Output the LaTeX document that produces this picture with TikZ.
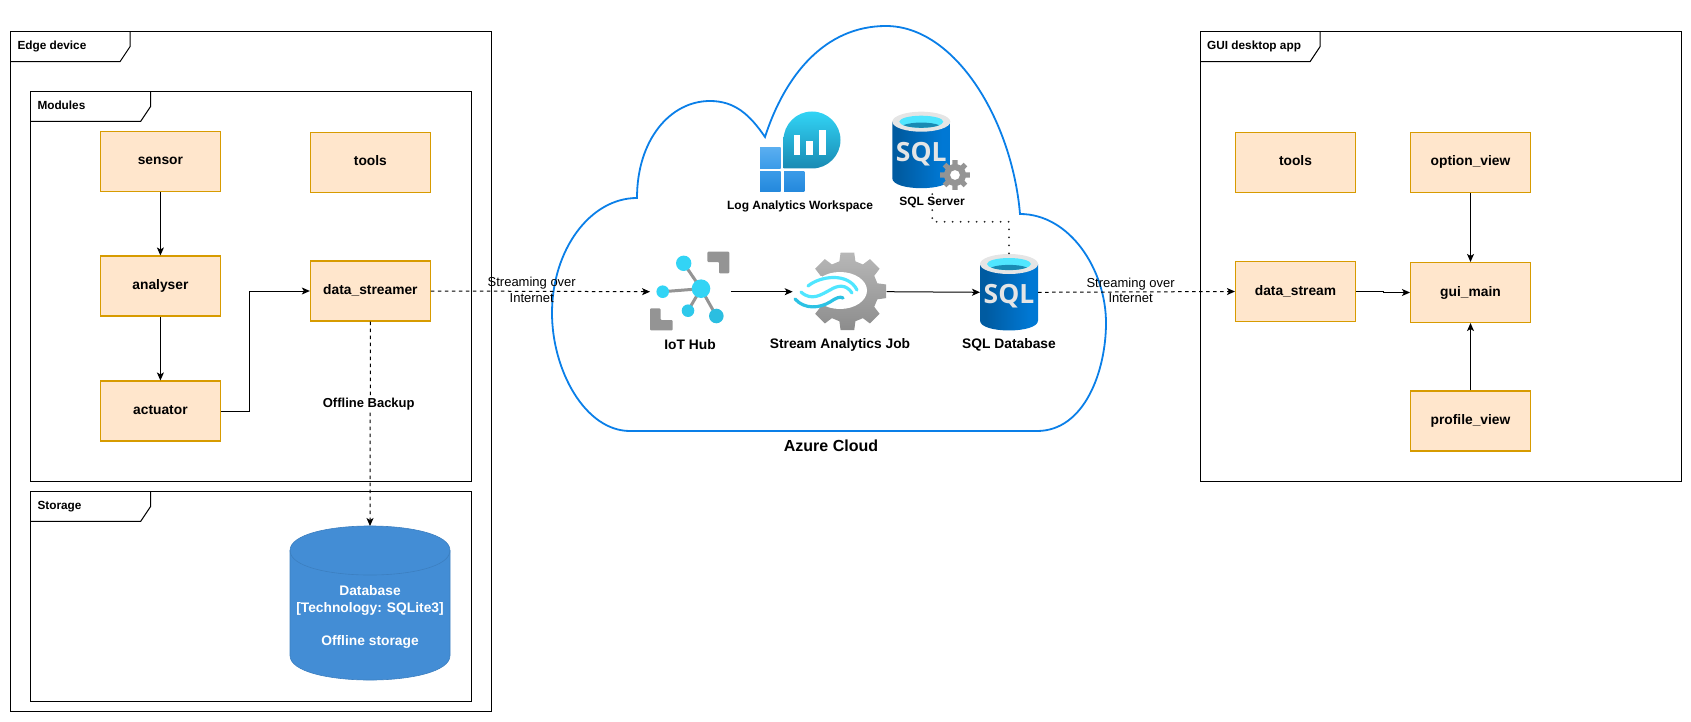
\documentclass[tikz,border=0pt]{standalone}
\usepackage{fontspec}
\setmainfont{Liberation Sans}
\newfontfamily\iconfont{Open Sans}
\usetikzlibrary{arrows.meta}

\definecolor{boxfill}{HTML}{FFE6CC}
\definecolor{boxline}{HTML}{D79B00}
\definecolor{cloudline}{HTML}{0A7FE8}
\definecolor{dbfill}{HTML}{438DD5}
\definecolor{dbline}{HTML}{3C7FC0}
\definecolor{iconcyan}{HTML}{32D4F5}
\definecolor{icondeep}{HTML}{198AB3}
\definecolor{iconpale}{HTML}{50E6FF}
\definecolor{icongrey}{HTML}{949494}
\definecolor{sqldark}{HTML}{005BA1}
\definecolor{sqlbright}{HTML}{0078D4}
\definecolor{logsky}{HTML}{5AAEF0}
\definecolor{logmid}{HTML}{3A9BE8}
\definecolor{loglow}{HTML}{2488DC}

\pgfdeclarehorizontalshading{sqlbody}{100bp}{color(0bp)=(sqldark); color(30bp)=(sqldark); color(68bp)=(sqlbright); color(74bp)=(sqlbright); color(100bp)=(sqldark)}

\tikzset{
  modulebox/.style={draw=boxline, fill=boxfill, line width=1.1pt, minimum width=120, minimum height=60, font=\fontsize{13.8}{16}\selectfont\bfseries, inner sep=0pt, text height=10pt, text depth=3pt},
  frameline/.style={draw=black, line width=1pt},
  frametitle/.style={anchor=west, inner sep=0pt, font=\fontsize{11.8}{14}\selectfont\bfseries, text height=9pt, text depth=2.5pt},
  flowarrow/.style={draw=black, line width=1pt, -{Stealth[length=8pt,width=7pt,inset=2pt]}},
  dasharrow/.style={flowarrow, dash pattern=on 3.5pt off 3.5pt},
  dotline/.style={draw=black!85, line width=2pt, line cap=round, dash pattern=on 0pt off 8pt},
  iconspot/.style={inner sep=0pt, outer sep=0pt},
  iconlabel/.style={inner sep=0pt, font=\fontsize{13.8}{16}\selectfont\bfseries},
  smalllabel/.style={inner sep=0pt, font=\fontsize{12}{14}\selectfont\bfseries},
  overlabel/.style={inner sep=0pt, align=center, font=\fontsize{13}{15.3}\selectfont},
  sqlicon/.pic={
    \path[shading=sqlbody] (-29,0) -- (-29,56.5) .. controls (-29,69.8) and (29,69.8) .. (29,56.5) -- (29,0) -- cycle;
    \fill[black!10] (0,0) ellipse (29 and 10);
    \fill[iconpale] (0,0) ellipse (22 and 6);
    \fill[icondeep] (-18,3.5) .. controls (-10,0) and (10,0) .. (18,3.5) .. controls (10,7) and (-10,7) .. (-18,3.5);
    \node[text=black!10, inner sep=0pt, font=\iconfont\fontsize{26.5}{27}\selectfont\bfseries] at (0,32) {SQL};
  }
}

\begin{document}
\begin{tikzpicture}[x=1pt, y=-1pt]
  \useasboundingbox (0,0) rectangle (1691,722);

  % cloud
  \draw[cloudline, line width=1.8pt] (637,198) .. controls (590,198) and (552,250) .. (552,313)
    .. controls (552,370) and (585,431) .. (630,431) -- (1037,431)
    .. controls (1085,431) and (1106,370) .. (1106,323)
    .. controls (1106,270) and (1070,214) .. (1020,214)
    .. controls (1012,120) and (955,26) .. (886,26)
    .. controls (825,26) and (785,75) .. (765,137)
    .. controls (750,115) and (735,101) .. (710,101)
    .. controls (670,101) and (637,140) .. (637,198) -- cycle;
  \node[inner sep=0pt, font=\fontsize{16}{18}\selectfont\bfseries] (cloudname) at (831,446) {Azure Cloud};

  % edge device frames
  \draw[frameline] (10,32) rectangle (491,711);
  \draw[frameline] (10,61.7) -- (120,61.7) -- (130,46.7) -- (130,32);
  \node[frametitle] (edgename) at (17.3,46.5) {Edge device};

  \draw[frameline] (30.7,91.3) rectangle (471,481.7);
  \draw[frameline] (30.7,121.3) -- (140.7,121.3) -- (150.7,106.3) -- (150.7,91.3);
  \node[frametitle] (modname) at (37.3,106.5) {Modules};

  \draw[frameline] (30.7,491.3) rectangle (471,701);
  \draw[frameline] (30.7,521.3) -- (140.7,521.3) -- (150.7,506.3) -- (150.7,491.3);
  \node[frametitle] (storename) at (37.3,506.5) {Storage};

  % gui frame
  \draw[frameline] (1200,32) rectangle (1681,481);
  \draw[frameline] (1200,61.7) -- (1310,61.7) -- (1320,46.7) -- (1320,32);
  \node[frametitle] (guiname) at (1207,46.5) {GUI desktop app};

  % modules
  \node[modulebox] (sensor) at (160.4,161.3) {sensor};
  \node[modulebox] (analyser) at (160.4,286) {analyser};
  \node[modulebox] (actuator) at (160.4,411) {actuator};
  \node[modulebox] (tools) at (370.4,162.3) {tools};
  \node[modulebox] (streamer) at (370.4,291) {data\_streamer};

  \node[iconspot, minimum width=160, minimum height=154] (localdb) at (370,603) {};
  \draw[dbline, fill=dbfill, line width=.6pt] (290,550.5) .. controls (290,517.8) and (450,517.8) .. (450,550.5) -- (450,655.5) .. controls (450,688.2) and (290,688.2) .. (290,655.5) -- cycle;
  \draw[dbline, line width=.6pt] (290,550.5) .. controls (290,583.2) and (450,583.2) .. (450,550.5);
  \node[inner sep=0pt, align=center, text=white, font=\fontsize{13.8}{17.5}\selectfont\bfseries] (dbtext) at (370,617) {Database\\{}[Technology: SQLite3]\\[15.3pt]Offline storage};

  % gui modules
  \node[modulebox] (guitools) at (1295.5,162.3) {tools};
  \node[modulebox] (datastream) at (1295.5,291.5) {data\_stream};
  \node[modulebox] (optionview) at (1470.5,162.3) {option\_view};
  \node[modulebox] (guimain) at (1470.5,292.5) {gui\_main};
  \node[modulebox] (profileview) at (1470.5,421) {profile\_view};

  % iot hub icon
  \node[iconspot, minimum width=80.7, minimum height=79] (iothub) at (690.4,291.7) {};
  \fill[icongrey, rounded corners=1pt] (707.3,251.7) -- (729.3,251.7) -- (729.3,273.3) -- (719,273.3) -- (719,262) -- (707.3,262) -- cycle;
  \fill[icongrey, rounded corners=1pt] (650,308.3) -- (660.5,308.3) -- (660.5,320) -- (672.7,320) -- (672.7,330.3) -- (650,330.3) -- cycle;
  \draw[icongrey, line width=3pt] (683.7,263.3) -- (701,288.7) -- (662.7,291.7);
  \draw[icongrey, line width=3pt] (688,310.7) -- (701,288.7) -- (716.3,316);
  \fill[iconcyan] (701,288.7) circle (9.3);
  \fill[iconcyan] (683.7,263.3) circle (7.7);
  \fill[iconcyan] (662.7,291.7) circle (6.3);
  \fill[iconcyan!85!icondeep] (688,310.7) circle (6.3);
  \fill[iconcyan!70!icondeep] (716.3,316) circle (7.3);
  \node[iconlabel] (iotname) at (690,344.5) {IoT Hub};

  % stream analytics icon
  \node[iconspot, minimum width=94, minimum height=79] (streamjob) at (839.7,291.7) {};
  \path[shift={(847.4,291.3)}, top color=black!28, bottom color=black!45] (-15:31) \foreach \a in {0,45,...,315} {
    -- (\a-15:31) -- (\a-10:39.3) -- (\a+10:39.3) -- (\a+15:31)
  } -- cycle;
  \fill[white] (840,290.5) ellipse (27 and 18.5);
  \fill[white] (790,276) rectangle (822,306);
  \draw[iconpale, line width=3.2pt, line cap=round] (808,286) .. controls (820,276) and (848,272) .. (857,290);
  \draw[iconpale, line width=3.2pt, line cap=round] (801,292) .. controls (812,302) and (822,294) .. (830,290) .. controls (838,285) and (846,284) .. (852,293);
  \draw[iconcyan!75!icondeep, line width=3.2pt, line cap=round] (795,299) .. controls (805,310) and (820,308) .. (830,302) .. controls (836,298) and (840,296) .. (843,298);
  \node[iconlabel] (jobname) at (840,344.5) {Stream Analytics Job};

  % sql icons
  \node[iconspot, minimum width=58, minimum height=76.7] (sqldb) at (1009,292.3) {};
  \pic at (1009,264) {sqlicon};
  \node[iconlabel] (dbname) at (1009,344.5) {SQL Database};

  \node[iconspot, minimum width=80, minimum height=82.3] (sqlserver) at (932.3,153) {};
  \pic at (921.3,121.7) {sqlicon};
  \path[shift={(955,175)}, fill=icongrey, even odd rule] (-14:11) \foreach \a in {0,45,...,315} {
    -- (\a-14:11) -- (\a-10:15) -- (\a+10:15) -- (\a+14:11)
  } -- cycle (0,0) circle (5);
  \node[smalllabel] (servername) at (932,202) {SQL Server};

  % log analytics icon
  \node[iconspot, minimum width=81, minimum height=80] (logworkspace) at (800,152) {};
  \path[top color=iconcyan, bottom color=icondeep] (783.5,140) .. controls (783.5,124.3) and (796.3,111.5) .. (812,111.5) .. controls (827.7,111.5) and (840.5,124.3) .. (840.5,140) .. controls (840.5,155.7) and (827.7,168.5) .. (812,168.5) -- (783.5,168.5) -- cycle;
  \fill[white] (793.5,135.5) rectangle (800,155);
  \fill[white] (806,141.5) rectangle (812.5,155);
  \fill[white] (819,130) rectangle (825.5,155);
  \path[top color=logsky, bottom color=logmid] (760,147.7) rectangle (780.7,168.7);
  \path[top color=logmid, bottom color=loglow] (760,171.3) rectangle (780.7,191.7);
  \path[top color=logmid, bottom color=loglow] (784,171.3) rectangle (804.3,191.7);
  \node[smalllabel] (logname) at (800,206) {Log Analytics Workspace};

  % connectors
  \draw[flowarrow] (sensor) -- (analyser);
  \draw[flowarrow] (analyser) -- (actuator);
  \draw[flowarrow] (actuator.east) -- ++(29,0) |- (streamer.west);
  \draw[dasharrow] (streamer.east) -- node[overlabel, pos=.46, yshift=1.5pt] (leftstream) {Streaming over\\Internet} (iothub.west);
  \draw[flowarrow] (iothub.east) -- (streamjob.west);
  \draw[flowarrow] (streamjob.east) -- (sqldb.west);
  \draw[dasharrow] (sqldb.east) -- node[overlabel, pos=.47, yshift=1.5pt] (rightstream) {Streaming over\\Internet} (datastream.west);
  \draw[dotline] (sqlserver.south) -- ++(0,27.7) -| (sqldb.north);
  \draw[dasharrow] (streamer.south) -- node[iconlabel, fill=white, pos=.405, xshift=-1.5pt, inner ysep=2pt, font=\fontsize{13}{15}\selectfont\bfseries] (backup) {Offline Backup} (localdb.north);
  \draw[flowarrow] (datastream.east) -- ++(27,0) |- (guimain.west);
  \draw[flowarrow] (optionview) -- (guimain);
  \draw[flowarrow] (profileview) -- (guimain);
\end{tikzpicture}
\end{document}
